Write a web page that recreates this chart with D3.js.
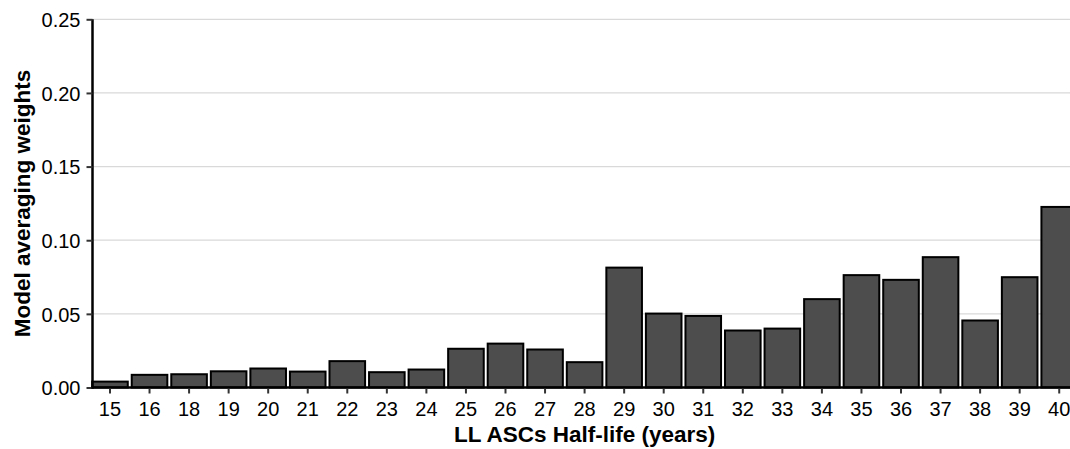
<!DOCTYPE html>
<html>
<head>
<meta charset="utf-8">
<script src="https://cdn.jsdelivr.net/npm/d3@7"></script>
<style>
  html, body { margin: 0; padding: 0; background: #fff; }
  svg { display: block; }
  text { font-family: "Liberation Sans", Arial, Helvetica, sans-serif; fill: #000; }
</style>
</head>
<body>
<svg id="chart" width="1070" height="449"></svg>
<script>
const categories = ["15","16","18","19","20","21","22","23","24","25","26","27","28","29","30","31","32","33","34","35","36","37","38","39","40"];
const weights = [0.0040, 0.0086, 0.0090, 0.0110, 0.0129, 0.0108, 0.0179, 0.0104, 0.0122, 0.0263, 0.0298, 0.0258, 0.0172, 0.0814, 0.0502, 0.0486, 0.0387, 0.0400, 0.0600, 0.0763, 0.0731, 0.0885, 0.0455, 0.0749, 0.1226];
const yTicks = [0.00, 0.05, 0.10, 0.15, 0.20, 0.25];
const xTitle = "LL ASCs Half-life (years)";
const yTitle = "Model averaging weights";

const W = 1070, H = 449;
const axisX = 92.5, y0 = 387.5, yTop = 19.3;
const svg = d3.select("#chart");

const x = d3.scaleBand()
  .domain(categories)
  .range([90.2, 1079])
  .paddingInner(0.1)
  .paddingOuter(0.05);

const y = d3.scaleLinear()
  .domain([0, 0.25])
  .range([y0, yTop]);

// gridlines
svg.append("g")
  .selectAll("line")
  .data(yTicks.filter(d => d > 0))
  .join("line")
  .attr("x1", axisX).attr("x2", W)
  .attr("y1", d => y(d)).attr("y2", d => y(d))
  .attr("stroke", "#d9d9d9").attr("stroke-width", 1.2);

// bars
svg.append("g")
  .selectAll("rect")
  .data(categories.map((c, i) => ({c, v: weights[i]})))
  .join("rect")
  .attr("x", d => x(d.c))
  .attr("width", x.bandwidth())
  .attr("y", d => y(d.v))
  .attr("height", d => y0 - y(d.v))
  .attr("fill", "#4d4d4d")
  .attr("stroke", "#000")
  .attr("stroke-width", 2);

// y axis
const yAxis = d3.axisLeft(y).tickValues(yTicks).tickFormat(d3.format(".2f")).tickSize(6).tickPadding(6);
const gy = svg.append("g").attr("transform", `translate(${axisX},0)`).call(yAxis);
gy.select(".domain").attr("stroke", "#000").attr("stroke-width", 2.5).attr("d", `M0,${yTop}V${y0 + 1.2}`);
gy.selectAll(".tick line").attr("stroke", "#333").attr("stroke-width", 2);
gy.selectAll(".tick text").attr("font-size", 20).attr("fill", "#000").attr("font-family", "Liberation Sans, Arial, sans-serif").attr("dy", "0.36em");

// x axis
const xAxis = d3.axisBottom(x).tickSize(6).tickPadding(8.5);
const gx = svg.append("g").attr("transform", `translate(0,${y0})`).call(xAxis);
gx.select(".domain").attr("stroke", "#000").attr("stroke-width", 2.5).attr("d", `M${axisX - 1.2},0H${W}`);
gx.selectAll(".tick line").attr("stroke", "#333").attr("stroke-width", 2).attr("y1", 1.2);
gx.selectAll(".tick text").attr("font-size", 20).attr("fill", "#000").attr("font-family", "Liberation Sans, Arial, sans-serif");

// titles
svg.append("text")
  .attr("x", (x.range()[0] + x.range()[1]) / 2)
  .attr("y", 441.5)
  .attr("text-anchor", "middle")
  .attr("font-size", 22.5)
  .attr("font-weight", "bold")
  .text(xTitle);

svg.append("text")
  .attr("transform", `translate(29.5,${(y0 + yTop) / 2}) rotate(-90)`)
  .attr("text-anchor", "middle")
  .attr("font-size", 22.5)
  .attr("font-weight", "bold")
  .text(yTitle);
</script>
</body>
</html>
